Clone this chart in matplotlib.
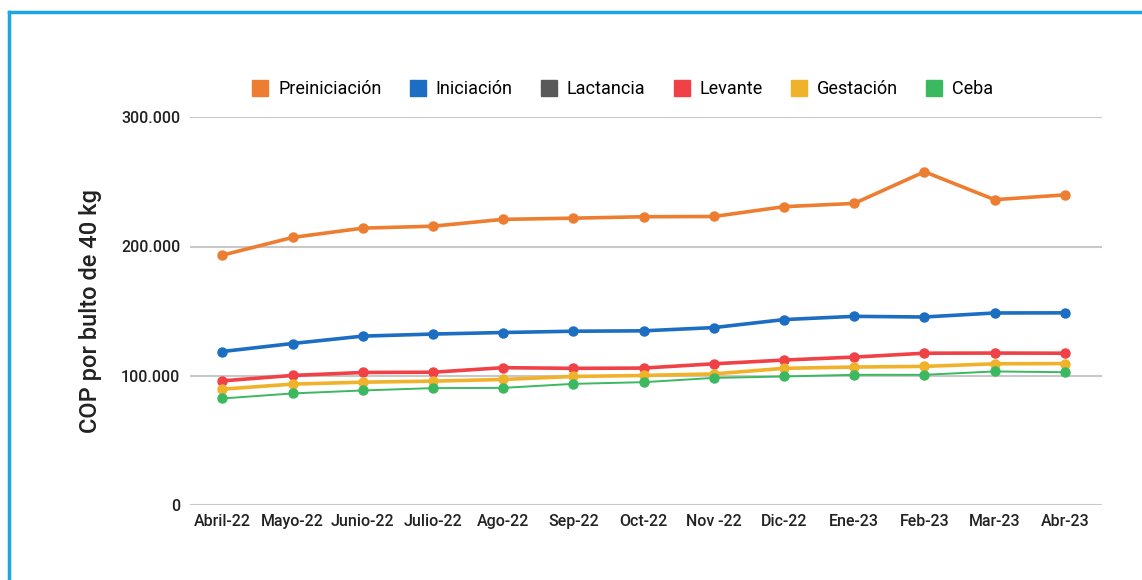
import matplotlib
matplotlib.use('Agg')
import matplotlib.pyplot as plt
from matplotlib.lines import Line2D
from matplotlib.ticker import FuncFormatter

meses = ["Abril-22", "Mayo-22", "Junio-22", "Julio-22", "Ago-22", "Sep-22", "Oct-22",
         "Nov -22", "Dic-22", "Ene-23", "Feb-23", "Mar-23", "Abr-23"]

preiniciacion = [193300, 207000, 214200, 215700, 221000, 221900, 223000,
                 223200, 230800, 233300, 257800, 236200, 239900]
iniciacion = [118800, 125000, 130700, 132300, 133500, 134500, 134800,
              137300, 143500, 146000, 145500, 148600, 148700]
lactancia = []
levante = [96100, 100300, 102600, 102800, 106300, 105800, 106000,
           109300, 112200, 114500, 117500, 117600, 117500]
gestacion = [89700, 93600, 95100, 95900, 97200, 99500, 100300,
             101500, 105800, 106800, 107300, 109300, 109500]
ceba = [82500, 86400, 88700, 90500, 90700, 93800, 95100,
        98400, 99500, 100800, 100800, 103400, 102800]

series = [
    ("Preiniciación", preiniciacion, "#ED7D31", 2.6),
    ("Iniciación", iniciacion, "#1B6EC2", 2.6),
    ("Lactancia", lactancia, "#595959", 2.6),
    ("Levante", levante, "#EF4146", 2.6),
    ("Gestación", gestacion, "#F0B22B", 2.6),
    ("Ceba", ceba, "#3CB860", 1.4),
]

plt.rcParams['font.family'] = ['Roboto', 'DejaVu Sans']

fig = plt.figure(figsize=(11.42, 5.80), dpi=100)
ax = fig.add_axes([0.1664, 0.129, 0.7986, 0.669])

x = list(range(len(meses)))
handles = []
for name, vals, color, lw in series:
    if len(vals):
        ax.plot(x, vals, color=color, lw=lw, marker="o", markersize=6.5,
                solid_capstyle="round", zorder=3)
    handles.append(Line2D([], [], linestyle="none", marker="s", markersize=12,
                          color=color, label=name))

ax.set_ylim(0, 300000)
ax.set_yticks([0, 100000, 200000, 300000])
ax.yaxis.set_major_formatter(FuncFormatter(lambda v, p: f"{int(v):,}".replace(",", ".")))
ax.set_xlim(-0.46, 12.53)
ax.set_xticks(x)
ax.set_xticklabels(meses)
ax.grid(True, axis="y", color="#C8C8C8", lw=1.5, zorder=0)
for s in ax.spines.values():
    s.set_visible(False)
ax.tick_params(axis="both", length=0, labelsize=11.5, colors="#222222")
ax.tick_params(axis="y", pad=7)
ax.tick_params(axis="x", pad=6)
for lbl in ax.get_xticklabels() + ax.get_yticklabels():
    lbl.set_fontweight("medium")
ax.set_ylabel("COP por bulto de 40 kg", fontsize=17, color="#222222",
              labelpad=14, fontweight="medium")

fig.legend(handles=handles, loc="center", bbox_to_anchor=(0.545, 0.846), ncol=6,
           frameon=False, fontsize=13, handlelength=1.0, handletextpad=0.5,
           columnspacing=1.5)

# blue frame
fig.add_artist(Line2D([9 / 1142, 1.0], [1 - 12 / 580, 1 - 12 / 580],
                      color="#1EA5E3", lw=2.5, transform=fig.transFigure))
fig.add_artist(Line2D([9 / 1142, 9 / 1142], [0.0, 1 - 12 / 580],
                      color="#1EA5E3", lw=2.5, transform=fig.transFigure))

fig.savefig("out.png", dpi=100)
